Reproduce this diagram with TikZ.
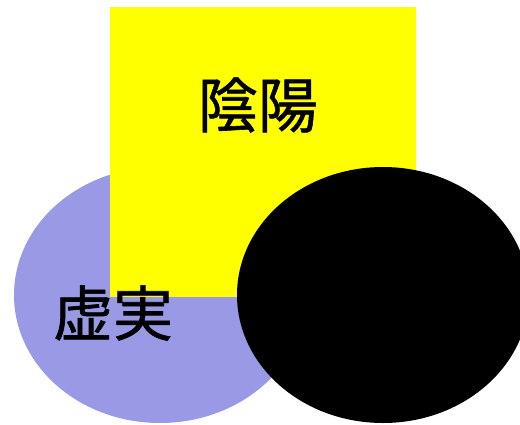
\documentclass[tikz,border=0pt]{standalone}
\usepackage{fontspec}
\newfontfamily\jpfont[FakeBold=1]{Noto Sans CJK JP}
\usepackage{tikz}
\usetikzlibrary{shapes.geometric}
\definecolor{lavender}{RGB}{153,153,230}
\definecolor{lemon}{RGB}{255,255,0}

\begin{document}
\begin{tikzpicture}[x=1pt,y=-1pt,
      inner sep=0pt,outer sep=0pt]
    \tikzstyle{blob}=[ellipse,draw=none,minimum width=292pt,minimum height=256pt]
    \tikzstyle{word}=[font=\jpfont\fontsize{60}{60}\selectfont,text=black]

    \useasboundingbox (0,0) rectangle (520,424);
    \clip (0,0) rectangle (520,424);

    \node[blob,fill=lavender]  (kyo)  at (160,295) {};
    \node[rectangle,fill=lemon,minimum width=306pt,minimum height=290pt]
                               (inyo) at (263,152) {};
    \node[blob,fill=black]     (yami) at (383,295) {};

    \node[word] (inyoText) at (258,105) {陰陽};
    \node[word] (kyoText)  at (113,313) {虚実};
  \end{tikzpicture}
\end{document}
